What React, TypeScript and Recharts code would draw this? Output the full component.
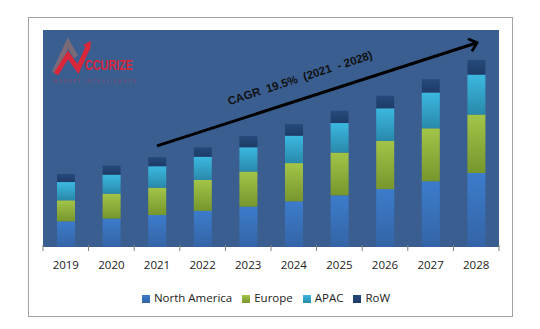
import { BarChart, Bar, XAxis, YAxis, CartesianGrid, Legend, ReferenceLine } from 'recharts';

const years = ['2019', '2020', '2021', '2022', '2023', '2024', '2025', '2026', '2027', '2028'];
const northAmerica = [7.3, 8.1, 9.1, 10.3, 11.5, 13.0, 14.7, 16.5, 18.7, 21.1];
const europe = [6.0, 7.1, 7.8, 8.8, 10.0, 10.9, 12.2, 13.7, 15.1, 16.6];
const apac = [5.2, 5.4, 6.1, 6.6, 6.9, 7.8, 8.4, 9.3, 10.2, 11.4];
const row = [2.3, 2.6, 2.6, 2.7, 3.2, 3.3, 3.5, 3.6, 3.8, 4.2];
const seriesNames = ['North America', 'Europe', 'APAC', 'RoW'];
const cagrLabel = 'CAGR  19.5%  (2021  - 2028)';

const data = years.map((year, i) => ({
  year,
  na: northAmerica[i],
  eu: europe[i],
  apac: apac[i],
  row: row[i],
}));

const W = 540;
const H = 329;
const PLOT_LEFT = 43;
const PLOT_RIGHT = 499;
const PLOT_TOP = 30;
const PLOT_BOTTOM = 245;
const BAND = (PLOT_RIGHT - PLOT_LEFT) / years.length;
const FONT = '"Open Sans", sans-serif';

function YearTick(props: any) {
  const { x, payload, index } = props;
  return (
    <g>
      <line x1={x - BAND / 2} x2={x - BAND / 2} y1={PLOT_BOTTOM} y2={PLOT_BOTTOM + 6} stroke="#7f7f7f" />
      {index === years.length - 1 && (
        <line x1={x + BAND / 2} x2={x + BAND / 2} y1={PLOT_BOTTOM} y2={PLOT_BOTTOM + 6} stroke="#7f7f7f" />
      )}
      <text x={x} y={PLOT_BOTTOM + 24} textAnchor="middle" fill="#222" fontSize={11.5} fontFamily={FONT}>
        {payload.value}
      </text>
    </g>
  );
}

function ArrowLine(props: any) {
  const { x1, y1, x2, y2 } = props;
  return <line x1={x1} y1={y1} x2={x2} y2={y2} stroke="#000" strokeWidth={3} markerEnd="url(#arrowHead)" />;
}

function Logo() {
  return (
    <div style={{ position: 'absolute', left: 52, top: 37, width: 100, height: 50 }}>
      <svg width={40} height={40} style={{ position: 'absolute', left: 0, top: 0 }}>
        <polyline points="2,36 16,6 24,20" fill="none" stroke="#7a6a78" strokeWidth={5} />
        <polyline points="4,37 16,18 26,32 36,10" fill="none" stroke="#d8263a" strokeWidth={5} />
        <polygon points="31,8 39,4 38,13" fill="#d8263a" />
      </svg>
      <div
        style={{
          position: 'absolute',
          left: 33,
          top: 19,
          color: '#d8263a',
          fontFamily: '"Liberation Sans", sans-serif',
          fontWeight: 'bold',
          fontSize: 15,
          lineHeight: '18px',
          transform: 'scaleX(0.72)',
          transformOrigin: 'left top',
          whiteSpace: 'nowrap',
        }}
      >
        CCURIZE
      </div>
      <div
        style={{
          position: 'absolute',
          left: 1,
          top: 41,
          color: '#b8405a',
          opacity: 0.6,
          fontFamily: FONT,
          fontSize: 5,
          letterSpacing: 1.6,
          whiteSpace: 'nowrap',
        }}
      >
        MARKET INTELLIGENCE
      </div>
    </div>
  );
}

export default function App() {
  return (
    <div style={{ position: 'relative', width: W, height: H, margin: -8, background: '#fff' }}>
      <div
        style={{
          position: 'absolute',
          left: 28,
          top: 17,
          width: 485,
          height: 300,
          border: '1px solid #a3a3a3',
          boxSizing: 'border-box',
        }}
      />
      <div style={{ position: 'absolute', left: 0, top: 0 }}>
        <BarChart
          width={W}
          height={H}
          data={data}
          barSize={18}
          margin={{ top: PLOT_TOP, right: W - PLOT_RIGHT, left: PLOT_LEFT, bottom: 24 }}
        >
          <defs>
            <linearGradient id="gNa" x1="0" y1="0" x2="0" y2="1">
              <stop offset="0%" stopColor="#3c7ccb" />
              <stop offset="100%" stopColor="#3464a6" />
            </linearGradient>
            <linearGradient id="gEu" x1="0" y1="0" x2="0" y2="1">
              <stop offset="0%" stopColor="#a2c548" />
              <stop offset="100%" stopColor="#77962d" />
            </linearGradient>
            <linearGradient id="gApac" x1="0" y1="0" x2="0" y2="1">
              <stop offset="0%" stopColor="#3cb8e0" />
              <stop offset="100%" stopColor="#2989ab" />
            </linearGradient>
            <linearGradient id="gRow" x1="0" y1="0" x2="0" y2="1">
              <stop offset="0%" stopColor="#264a7c" />
              <stop offset="100%" stopColor="#1d3b67" />
            </linearGradient>
            <marker id="arrowHead" markerWidth="5" markerHeight="5" refX="2.5" refY="2.5" orient="auto" markerUnits="strokeWidth">
              <path d="M0.3,0.3 L2.8,2.5 L0.3,4.7" fill="none" stroke="#000" strokeWidth={0.9} />
            </marker>
          </defs>
          <CartesianGrid fill="#3a5e90" stroke="none" horizontal={false} vertical={false} />
          <XAxis
            dataKey="year"
            axisLine={false}
            tickLine={false}
            tick={<YearTick />}
            height={43}
            interval={0}
          />
          <YAxis hide domain={[0, 61.8]} />
          <Legend
            iconType="square"
            iconSize={8}
            itemSorter={(item: any) => seriesNames.indexOf(item.value)}
            wrapperStyle={{ fontFamily: FONT, fontSize: 11.5, color: '#222' }}
            formatter={(value) => <span style={{ color: '#222' }}>{value}</span>}
          />
          <Bar dataKey="na" name="North America" stackId="a" fill="url(#gNa)" legendType="square" isAnimationActive={false} />
          <Bar dataKey="eu" name="Europe" stackId="a" fill="url(#gEu)" legendType="square" isAnimationActive={false} />
          <Bar dataKey="apac" name="APAC" stackId="a" fill="url(#gApac)" legendType="square" isAnimationActive={false} />
          <Bar dataKey="row" name="RoW" stackId="a" fill="url(#gRow)" legendType="square" isAnimationActive={false} />
          <ReferenceLine
            segment={[
              { x: '2021', y: 28.8 },
              { x: '2028', y: 58.1 },
            ]}
            ifOverflow="visible"
            shape={<ArrowLine />}
          />
        </BarChart>
      </div>
      <Logo />
      <div
        style={{
          position: 'absolute',
          left: 300,
          top: 78,
          transform: 'translate(-50%, -50%) rotate(-18deg)',
          fontFamily: '"Liberation Sans", Arial, sans-serif',
          fontWeight: 'bold',
          fontSize: 11.5,
          color: '#111',
          whiteSpace: 'pre',
        }}
      >
        {cagrLabel}
      </div>
    </div>
  );
}
